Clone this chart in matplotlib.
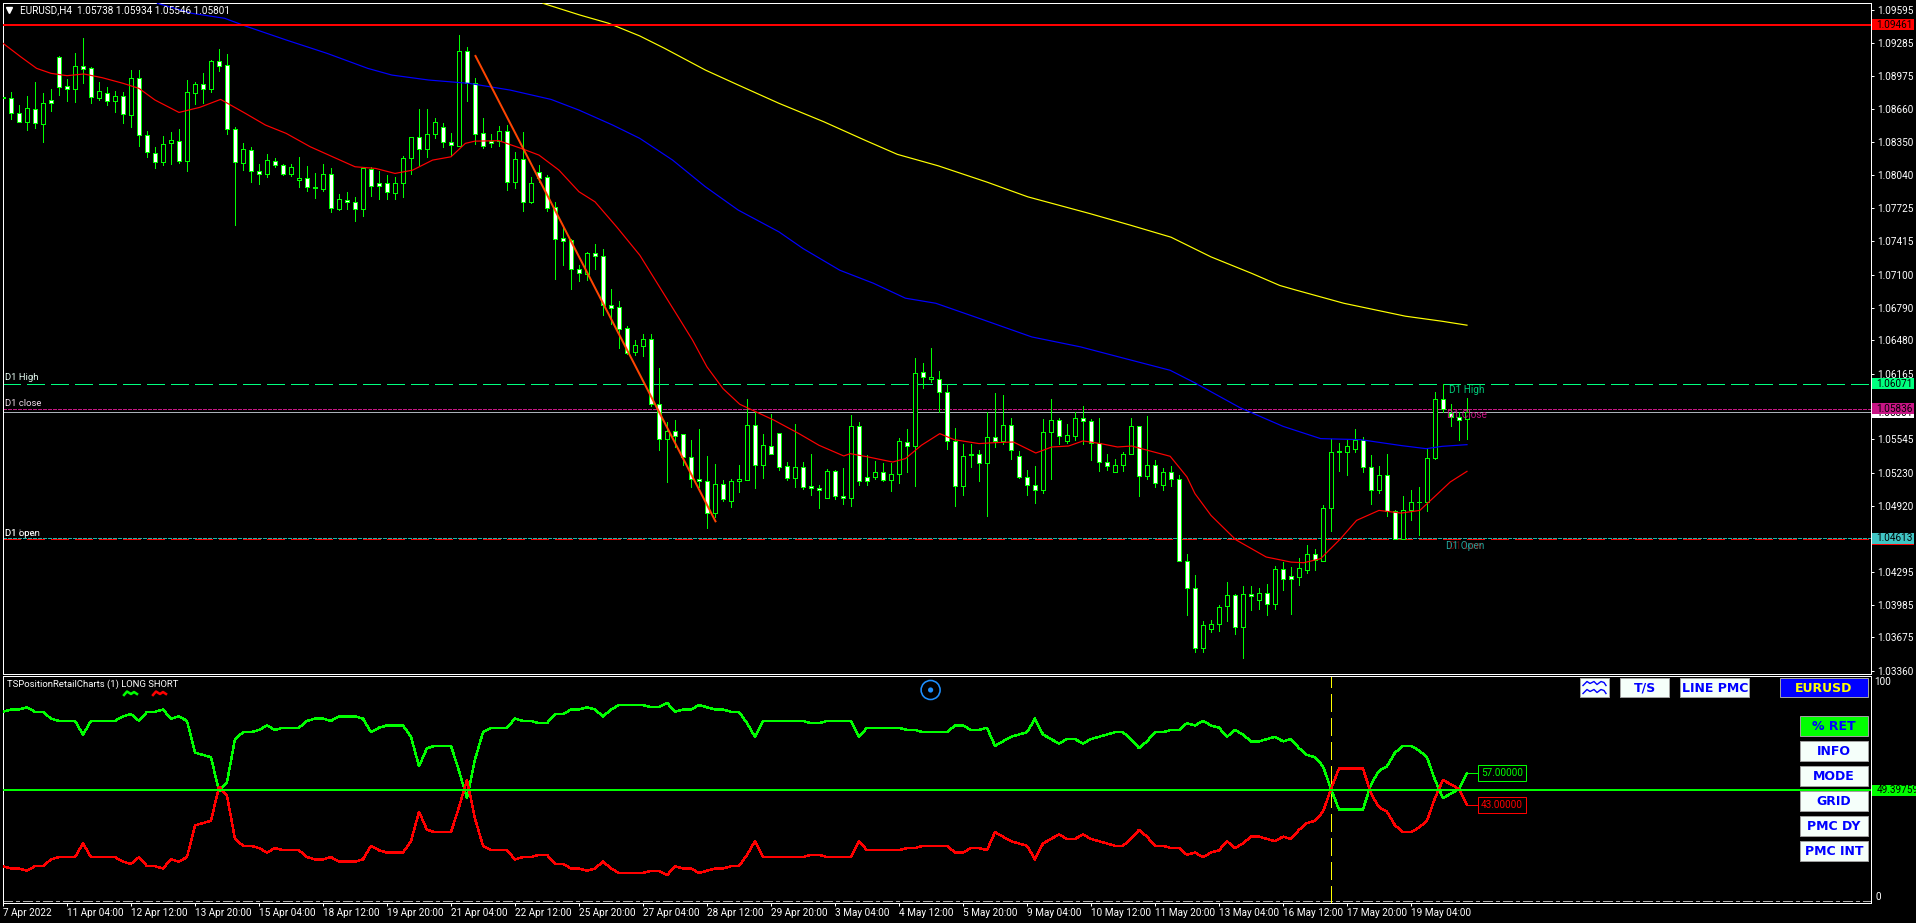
# EURUSD H4 terminal screenshot, candles plus retail position sub window
import numpy as np
import matplotlib
matplotlib.use('Agg')
import matplotlib.pyplot as plt
from matplotlib.patches import Rectangle, Circle

plt.rcParams['font.family'] = ['Roboto', 'DejaVu Sans']

# candles, in points (1.08774 -> 108774)
open_pts = [
    108765,108765,108623,108544,108661,108525,108749,109152,108878,108850,
    109067,109048,108771,108818,108743,108790,108610,108954,108415,108251,
    108160,108339,108365,108176,108818,108897,108850,109114,109077,108472,
    108157,108273,108075,108053,108176,108132,108053,107990,108009,107921,
    107908,108047,107722,107801,107788,107716,108097,107961,107961,107873,
    107961,108198,108396,108289,108425,108491,108355,108317,109209,108906,
    108434,108365,108358,108453,107977,108188,107788,108065,108018,107735,
    107442,107426,107149,107111,107300,107281,106809,106790,106594,106371,
    106427,106497,105882,105549,105627,105599,105378,105174,105155,104849,
    105120,104963,105152,105161,105684,105303,105486,105608,105290,105180,
    105287,105108,105089,104991,105249,105013,104994,105675,105189,105189,
    105240,105161,105221,105523,105486,106185,106116,106119,105996,105533,
    105104,105397,105410,105322,105571,105530,105684,105391,105189,105117,
    105067,105618,105731,105530,105577,105750,105719,105514,105334,105237,
    105303,105407,105675,105199,105306,105114,105240,105174,104396,104144,
    103573,103753,103800,103970,104078,103772,104087,104027,104097,103989,
    104323,104251,104244,104307,104465,104396,104900,105426,105429,105454,
    105536,105284,105067,105212,104868,104604,104881,104953,104953,105369,
    105930,105794,105760,105738]
high_pts = [
    108929,108821,108699,108787,108919,108812,108853,109165,108947,109196,
    109338,109064,108922,108869,108834,108821,109032,109032,108456,108305,
    108412,108447,108472,108938,108916,109001,109127,109228,109184,108491,
    108339,108305,108144,108239,108201,108147,108147,108210,108125,108056,
    108144,108103,107861,107880,107835,108119,108119,108078,108040,108024,
    108220,108402,108664,108664,108579,108528,108434,109363,109250,108954,
    108579,108425,108500,108510,108261,108443,108024,108135,108040,107785,
    107552,107439,107190,107316,107385,107338,106969,106850,106613,106481,
    106538,106544,106223,105709,105725,105599,105536,105646,105385,105309,
    105158,105167,105300,105923,105804,105593,105788,105608,105331,105687,
    105331,105410,105111,105262,105259,105278,105772,105712,105401,105338,
    105325,105325,105555,105640,106311,106270,106412,106188,106065,105656,
    105504,105504,105448,105807,105986,105961,105744,105432,105252,105290,
    105734,105923,105750,105687,105807,105857,105741,105750,105410,105363,
    105429,105744,105675,105769,105353,105271,105290,105205,104459,104260,
    103826,103842,103977,104194,104087,104156,104156,104137,104175,104345,
    104386,104339,104427,104544,104506,104922,105549,105508,105536,105640,
    105571,105401,105290,105410,104874,105007,105063,105092,105451,105990,
    106071,105876,105804,105934]
low_pts = [
    108670,108569,108538,108465,108488,108355,108645,108796,108740,108733,
    108910,108724,108749,108702,108639,108532,108494,108314,108207,108110,
    108135,108147,108150,108078,108708,108724,108825,109023,108428,107571,
    108087,107974,107955,108024,108119,108040,108034,107927,107892,107823,
    107892,107694,107709,107719,107609,107656,107845,107813,107813,107813,
    107835,108053,108135,108210,108393,108305,108229,108314,108740,108333,
    108299,108305,108314,107898,107914,107700,107776,107977,107700,107057,
    107190,106966,107039,107054,107158,106717,106638,106405,106355,106339,
    106330,105857,105441,105142,105473,105300,105095,105095,104708,104811,
    104960,104906,105048,105158,105086,105177,105407,105256,105158,105095,
    105073,105016,104897,104991,104985,104931,104915,105117,105111,105174,
    105149,105054,105136,105237,105104,106031,106084,105804,105451,104915,
    105016,105284,105149,104821,105473,105504,105356,105180,105016,104941,
    105035,105171,105498,105514,105542,105504,105347,105246,105252,105237,
    105243,105404,105010,105171,105095,105063,105104,104396,103882,103533,
    103533,103722,103731,103826,103703,103485,103929,103939,103882,103939,
    104118,103892,104166,104282,104307,104396,104676,105243,105205,105426,
    105234,104934,105038,104821,104601,104601,104780,104638,104865,105356,
    105804,105668,105536,105546]
close_pts = [
    108774,108623,108544,108670,108528,108717,108717,108875,108850,109067,
    109045,108774,108831,108743,108790,108614,108954,108415,108261,108160,
    108336,108368,108176,108821,108897,108850,109114,109073,108472,108160,
    108283,108075,108053,108179,108132,108053,108113,108009,107924,107924,
    108047,107725,107810,107782,107716,108106,107939,107939,107876,107961,
    108198,108396,108289,108425,108538,108355,108321,109209,108906,108431,
    108314,108339,108453,107977,108188,107788,107961,108015,107732,107439,
    107420,107149,107117,107300,107281,106809,106790,106591,106361,106434,
    106497,105882,105552,105627,105580,105378,105174,105152,104849,105126,
    104978,105155,105167,105684,105303,105495,105407,105284,105180,105287,
    105095,105089,105067,105249,105013,104991,105675,105152,105152,105240,
    105161,105221,105533,105486,106175,106134,106138,105996,105533,105104,
    105391,105410,105325,105571,105530,105684,105448,105189,105117,105067,
    105618,105731,105580,105590,105750,105719,105514,105331,105293,105306,
    105410,105675,105202,105306,105133,105240,105171,104396,104144,103573,
    103794,103804,103964,104078,103772,104087,104064,104097,103989,104324,
    104226,104226,104333,104465,104402,104900,105429,105432,105486,105536,
    105284,105067,105212,104868,104604,104881,104956,104956,105372,105930,
    105835,105756,105731,105801]

# moving averages, read at their bends: bar number and price in points
ma_red_x = [0,2.2,4.2,6,8,10.1,12.4,15,17,19,22,24.6,27.2,30.3,32.8,35.4,38.4,41,44,46.6,49,51.2,53.7,56,57.8,59,62,65,67,
            69.5,72,74,76.7,79.6,84.5,86.2,88,90,92.1,93.9,96.4,99.5,102,105.1,105.9,108.2,111.2,112.8,114.8,117.1,118.9,
            122,124,126.3,129.1,131.1,133.2,135,137.2,139.3,141.1,143.4,145.9,148,149,151,154.1,157.9,159.6,161,162.6,
            164.7,167.2,169.2,172,174.8,177.1,178.9,180.9,183]
ma_red_y = [109285,109158,109048,109001,108979,108995,108960,108907,108859,108749,108632,108680,108755,108623,108513,108434,
            108308,108220,108119,108103,108056,108087,108182,108213,108340,108361,108365,108286,108229,108087,107883,107788,
            107552,107284,106689,106481,106229,106024,105876,105813,105725,105599,105489,105388,105410,105378,105331,105363,
            105489,105599,105542,105505,105514,105520,105416,105473,105482,105530,105505,105473,105482,105435,105385,105190,
            105032,104827,104597,104434,104408,104386,104380,104418,104607,104780,104874,104849,104874,105000,105142,105243]
ma_blue_x = [19.3,23.6,27.7,30.3,35.4,40.5,45.6,48.6,53.2,58.3,63.4,68.5,72,76.2,79.6,83.7,87.8,91.9,97,100,104.6,108.8,
             112.8,116.6,122.3,128.6,134.7,139.8,145.9,149,154.6,160,164.7,169.7,174.8,177.9,179.9,183]
ma_blue_y = [109662,109568,109521,109448,109316,109190,109048,108985,108938,108906,108843,108755,108654,108513,108387,108182,
             107930,107710,107504,107347,107142,107019,106878,106830,106680,106512,106418,106317,106197,106078,105845,105668,
             105552,105542,105486,105457,105479,105495]
ma_yellow_x = [67.5,72.1,75.7,79.6,82.7,87.8,91.9,97,102.6,107.7,111.8,116.9,123,128.1,135.8,140.9,146,151,156.1,159.6,
               161.5,167.6,175.3,179.9,183]
ma_yellow_y = [109662,109552,109474,109354,109237,109032,108891,108718,108544,108371,108236,108128,107974,107835,107678,
               107568,107454,107268,107112,106998,106957,106830,106708,106660,106623]

# trend line: bars and prices of its two ends
trend_x = [59.06, 89.06]
trend_y = [1.09165, 1.04771]

# price levels
level_red = 1.09461
level_d1_high = 1.06071
level_d1_close = 1.05836
level_bid = 1.05801
level_d1_open = 1.04613
level_d1_low = 1.04600

price_ticks = [1.09595,1.09285,1.08975,1.08660,1.08350,1.08040,1.07725,1.07415,1.07100,1.06790,1.06480,1.06165,
               1.05855,1.05545,1.05230,1.04920,1.04610,1.04295,1.03985,1.03675,1.03360]

time_labels = ['7 Apr 2022','11 Apr 04:00','12 Apr 12:00','13 Apr 20:00','15 Apr 04:00','18 Apr 12:00','19 Apr 20:00',
               '21 Apr 04:00','22 Apr 12:00','25 Apr 20:00','27 Apr 04:00','28 Apr 12:00','29 Apr 20:00','3 May 04:00',
               '4 May 12:00','5 May 20:00','9 May 04:00','10 May 12:00','11 May 20:00','13 May 04:00','16 May 12:00',
               '17 May 20:00','19 May 04:00']

# sub window, percent long and short for every bar
long_pct = [84,85,85,86,84,84,81,80,80,80,74,80,80,80,80,82,83,80,84,84,
            85,81,82,80,66,65,64,49,53,72,75,75,76,78,76,77,77,77,80,81,
            81,80,82,82,82,81,75,77,78,78,78,73,60,68,69,69,69,58,46,63,
            75,77,77,77,81,80,80,79,79,83,83,85,85,86,85,82,85,87,87,87,
            87,86,86,88,84,85,85,87,86,85,85,84,84,79,73,
            80,80,80,80,80,80,79,79,80,80,80,80,73,77,77,77,77,77,76,76,
            75,75,75,75,78,78,76,76,77,69,71,73,74,75,81,74,72,70,72,72,
            70,72,73,74,75,75,72,68,71,75,75,76,76,79,78,80,78,77,73,76,
            74,71,71,72,73,71,72,68,65,64,60,50,41,41,41,41,52,58,60,66,
            69,69,67,64,54,46,48,50,57]
short_pct = [16,15,15,14,16,16,19,20,20,20,26,20,20,20,20,18,17,20,16,16,
             15,19,18,20,34,35,36,51,47,28,25,25,24,22,24,23,23,23,20,19,
             19,20,18,18,18,19,25,23,22,22,22,27,40,32,31,31,31,42,54,37,
             25,23,23,23,19,20,20,21,21,17,17,15,15,14,15,18,15,13,13,13,
             13,14,14,12,16,15,15,13,14,15,15,16,16,21,27,
             20,20,20,20,20,20,21,21,20,20,20,20,27,23,23,23,23,23,24,24,
             25,25,25,25,22,22,24,24,23,31,29,27,26,25,19,26,28,30,28,28,
             30,28,27,26,25,25,28,32,29,25,25,24,24,21,22,20,22,23,27,24,
             26,29,29,28,27,29,28,32,35,36,40,50,59,59,59,59,48,42,40,34,
             31,31,33,36,46,54,52,50,43]
sub_level = 49.39759

PX = 0.72  # one pixel in points at dpi 100
W, H = 1916, 923
GREEN = '#00ff00'
BLUE = '#0000ff'

o = np.array(open_pts) / 100000
h = np.array(high_pts) / 100000
l = np.array(low_pts) / 100000
c = np.array(close_pts) / 100000
bars = np.arange(len(o))


def add_axes_px(left, top, right, bottom):
    return fig.add_axes([left / W, 1 - bottom / H, (right - left) / W, (bottom - top) / H])


fig = plt.figure(figsize=(W / 100, H / 100), dpi=100, facecolor='black')
ax = add_axes_px(2.5, 2.5, 1870.5, 673.5)
sub = add_axes_px(2.5, 675.5, 1870.5, 902.5)

x_left, x_right = -0.0625, 233.44
for a in (ax, sub):
    a.set_facecolor('black')
    a.set_xlim(x_left, x_right)
    for s in a.spines.values():
        s.set_color('white')
        s.set_linewidth(PX)

ax.set_ylim(1.03334, 1.09670)

# dashed levels sit behind the candles
ax.axhline(level_d1_high, color='#00ff7f', lw=PX, dashes=(18, 6), zorder=1, antialiased=False)
ax.axhline(level_d1_close, color='#c71585', lw=PX, dashes=(3, 2), zorder=1, antialiased=False)
ax.axhline(level_bid, color='#a9b0b8', lw=PX, zorder=1, antialiased=False)
ax.axhline(level_d1_low, color='#ff0000', lw=PX, dashes=(18, 6), zorder=1, antialiased=False)
ax.axhline(level_d1_open, color='#20b2aa', lw=PX, dashes=(3, 2), zorder=1.1, antialiased=False)

ax.vlines(bars, l, h, color=GREEN, lw=PX, zorder=2, antialiased=False)
body_low = np.minimum(o, c)
body_high = np.maximum(o, c)
faces = ['white' if cc < oo else 'black' for oo, cc in zip(o, c)]
ax.bar(bars, body_high - body_low, bottom=body_low, width=0.5, color=faces, edgecolor=GREEN,
       linewidth=PX, zorder=3, antialiased=False)

ax.plot(ma_red_x, np.array(ma_red_y) / 100000, color='#ff0000', lw=1.2 * PX, zorder=4)
ax.plot(ma_blue_x, np.array(ma_blue_y) / 100000, color='#0000ff', lw=1.2 * PX, zorder=4)
ax.plot(ma_yellow_x, np.array(ma_yellow_y) / 100000, color='#ffff00', lw=1.2 * PX, zorder=4)
ax.plot(trend_x, trend_y, color='#ff4500', lw=2 * PX, zorder=5)
ax.axhline(level_red, color='#ff0000', lw=2 * PX, zorder=5, antialiased=False)

ax.yaxis.tick_right()
ax.set_yticks(price_ticks)
ax.set_yticklabels(['%.5f' % p for p in price_ticks])
ax.tick_params(axis='y', colors='white', length=3 * PX, width=PX, pad=4 * PX, labelsize=10 * PX)
ax.set_xticks([])

# price boxes on the right edge, later boxes lie over earlier ones
yt = ax.get_yaxis_transform()
box_h = 0.00052
boxes = [(level_bid - 0.00005, 'white', '1.05801'),
         (level_red, '#ff0000', '1.09461'),
         (level_d1_high, '#00ff7f', '1.06071'),
         (level_d1_close, '#c71585', '1.05836'),
         (level_d1_low - 0.00002, '#ff0000', ''),
         (level_d1_open, '#40c4c4', '1.04613')]
for n, (price, col, label) in enumerate(boxes):
    ax.add_patch(Rectangle((1.0008, price - box_h), 0.0225, 2 * box_h, transform=yt, color=col,
                           clip_on=False, zorder=8 + n, lw=0))
    if label:
        ax.text(1.0032, price, label, transform=yt, color='black', fontsize=10 * PX, va='center', ha='left',
                clip_on=False, zorder=8.5 + n)

# terminal title and level names
ax.text(18 / 1868, 1.09670 - 0.00076, 'EURUSD,H4  1.05738 1.05934 1.05546 1.05801', color='white',
        transform=yt, fontsize=10 * PX, va='center', ha='left', zorder=9)
ax.plot([0.0035], [0.9885], marker='v', color='white', ms=4.5, transform=ax.transAxes, zorder=9)
for txt, price, col, alpha in [('D1 High', 1.06125, '#e8fff5', 1), ('D1 close', 1.05888, '#f0dcea', 1),
                               ('D1 open', 1.04657, '#ffffff', 1), ('D1 Low', 1.04652, '#ffffff', 0.45)]:
    ax.text(0.0012, price, txt, color=col, alpha=alpha, transform=yt, fontsize=9.5 * PX, va='center', ha='left')
ax.text(180.75, 1.06008, 'D1 High', color='#00c878', fontsize=10 * PX, va='center', ha='left', zorder=6)
ax.text(180.5, 1.05772, 'D1 Close', color='#c71585', fontsize=10 * PX, va='center', ha='left', zorder=6)
ax.text(180.4, 1.04537, 'D1 Open', color='#20a8a0', fontsize=10 * PX, va='center', ha='left', zorder=6)
ax.text(180.7, 1.04537, 'D1 Low', color='#d01010', alpha=0.45, fontsize=10 * PX, va='center', ha='left', zorder=6)

# sub window
sub.set_ylim(0, 100)
sub.yaxis.set_visible(False)
sub.plot(bars, long_pct, color=GREEN, lw=1.4 * PX, zorder=3, antialiased=False)
sub.plot(bars, short_pct, color='#ff0000', lw=1.4 * PX, zorder=3, antialiased=False)
sub.axhline(sub_level, color=GREEN, lw=2 * PX, zorder=4, antialiased=False)
sub.axhline(0.5, color='#b0b0b0', lw=PX, dashes=(10, 4, 3, 4), zorder=2, antialiased=False)
sub.axvline(166, color='#ffff00', lw=PX, dashes=(18, 6), zorder=2, antialiased=False)

# end tags of the two lines
sub.plot([bars[-1], bars[-1] + 1.4], [long_pct[-1]] * 2, color=GREEN, lw=PX, antialiased=False)
sub.plot([bars[-1], bars[-1] + 1.4], [short_pct[-1]] * 2, color='#ff0000', lw=PX, antialiased=False)
for val, col in [(long_pct[-1], GREEN), (short_pct[-1], '#ff0000')]:
    sub.text(184.75, val, '%.5f' % val, color=col, fontsize=10 * PX, va='center', ha='left', zorder=6,
             bbox=dict(facecolor='black', edgecolor=col, linewidth=PX, pad=2))

sub.set_xticks(bars[::8][:len(time_labels)])
sub.set_xticklabels(time_labels, ha='left')
sub.tick_params(axis='x', colors='white', length=3 * PX, width=PX, pad=2 * PX, labelsize=10 * PX)

yt2 = sub.get_yaxis_transform()
sub.text(1.0018, 97, '100', color='white', transform=yt2, fontsize=10 * PX, va='center', ha='left', clip_on=False)
sub.text(1.0028, 2.6, '0', color='white', transform=yt2, fontsize=10 * PX, va='center', ha='left', clip_on=False)
sub.add_patch(Rectangle((1.0006, sub_level - 2.4), 0.0235, 4.8, transform=yt2, color=GREEN, clip_on=False, lw=0))
sub.text(1.0032, sub_level, '%.5f' % sub_level, color='black', transform=yt2, fontsize=10 * PX, va='center',
         ha='left', clip_on=False)

# overlay in pixels for the panel buttons and small icons
ov = fig.add_axes([0, 0, 1, 1])
ov.set_xlim(0, W)
ov.set_ylim(H, 0)
ov.axis('off')
ov.patch.set_alpha(0)

ov.text(7, 684.7, 'TSPositionRetailCharts (1) LONG SHORT', color='white', fontsize=9.5 * PX, va='center', ha='left')
for x0, col in [(124, GREEN), (153, '#ff0000')]:
    ov.plot([x0, x0 + 3, x0 + 7, x0 + 10, x0 + 13], [695, 691.5, 694, 692, 694], color=col, lw=2.5 * PX)

ov.add_patch(Circle((930.6, 690), 9.5, fill=False, edgecolor='#1e90ff', lw=1.6 * PX))
ov.add_patch(Circle((930.6, 690), 2.6, color='#1e90ff', lw=0))


def button(x0, x1, y0, y1, label, face='#f5fffa', text='#0000ff'):
    ov.add_patch(Rectangle((x0, y0), x1 - x0, y1 - y0, facecolor=face, edgecolor='#a0a0a0', lw=PX))
    if label:
        ov.text((x0 + x1) / 2, (y0 + y1) / 2 + 0.3, label, color=text, fontsize=12.5 * PX, weight='bold',
                family='DejaVu Sans', va='center', ha='center')


button(1580.3, 1609.3, 678.3, 697.3, '')
for yy in (683.5, 691.5):
    ov.plot([1583, 1587, 1590, 1594, 1597, 1601, 1604, 1606], [yy + 2, yy - 2, yy, yy - 2, yy + 1, yy - 2, yy - 1, yy + 2],
            color=BLUE, lw=1.4 * PX)
button(1620.3, 1669.3, 678.3, 697.3, 'T/S')
button(1680.3, 1749.3, 678.3, 697.3, 'LINE PMC')
button(1780.3, 1867.7, 678.3, 697.3, 'EURUSD', face=BLUE, text='#ffff00')
button(1800.3, 1867.7, 716.3, 735.7, '% RET', face=GREEN)
button(1800.3, 1867.7, 741.3, 760.7, 'INFO')
button(1800.3, 1867.7, 766.3, 785.7, 'MODE')
button(1800.3, 1867.7, 791.3, 810.7, 'GRID')
button(1800.3, 1867.7, 816.3, 835.7, 'PMC DY')
button(1800.3, 1867.7, 841.3, 860.7, 'PMC INT')

fig.savefig('out.png', dpi=100, facecolor='black')
